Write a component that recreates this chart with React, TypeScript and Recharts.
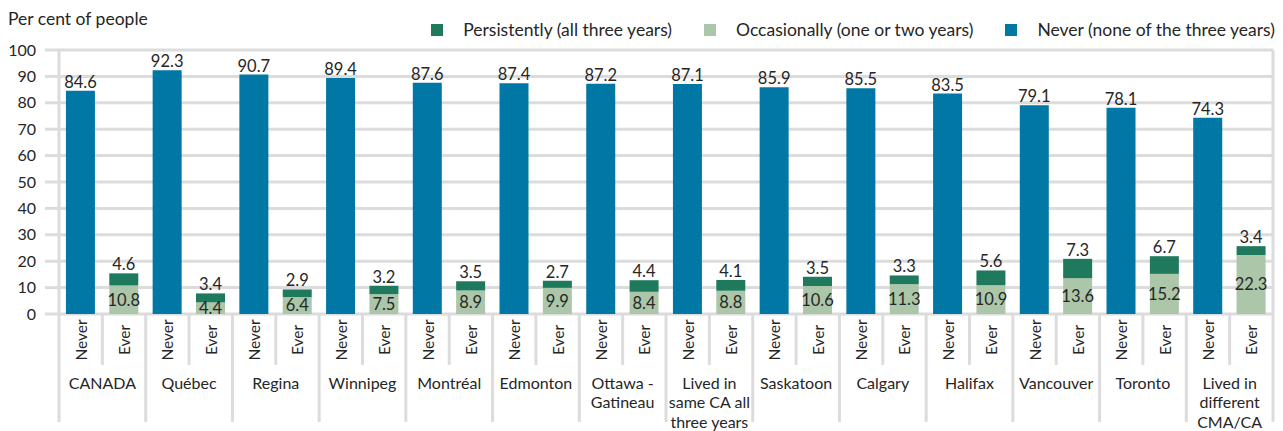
import { BarChart, Bar, XAxis, YAxis, CartesianGrid, LabelList } from 'recharts'

const groups = ['CANADA', 'Québec', 'Regina', 'Winnipeg', 'Montréal', 'Edmonton', 'Ottawa - Gatineau',
  'Lived in same CA all three years', 'Saskatoon', 'Calgary', 'Halifax', 'Vancouver', 'Toronto',
  'Lived in different CMA/CA']
const groupLines = [['CANADA'], ['Québec'], ['Regina'], ['Winnipeg'], ['Montréal'], ['Edmonton'],
  ['Ottawa -', 'Gatineau'], ['Lived in', 'same CA all', 'three years'], ['Saskatoon'], ['Calgary'],
  ['Halifax'], ['Vancouver'], ['Toronto'], ['Lived in', 'different', 'CMA/CA']]
const never = [84.6, 92.3, 90.7, 89.4, 87.6, 87.4, 87.2, 87.1, 85.9, 85.5, 83.5, 79.1, 78.1, 74.3]
const occasionally = [10.8, 4.4, 6.4, 7.5, 8.9, 9.9, 8.4, 8.8, 10.6, 11.3, 10.9, 13.6, 15.2, 22.3]
const persistently = [4.6, 3.4, 2.9, 3.2, 3.5, 2.7, 4.4, 4.1, 3.5, 3.3, 5.6, 7.3, 6.7, 3.4]
const subLabels = ['Never', 'Ever']
const yTicks = [0, 10, 20, 30, 40, 50, 60, 70, 80, 90, 100]

const BLUE = '#0077A4'
const DARK = '#1F7A5D'
const LIGHT = '#ABC6A9'
const GRID = '#DCDCDC'
const TEXT = '#262626'
const FONT = 'Lato, "Open Sans", sans-serif'

const rows = groups.flatMap((g, i) => [
  { key: `${g}|0`, group: i, sub: subLabels[0], never: never[i], occ: null, pers: null },
  { key: `${g}|1`, group: i, sub: subLabels[1], never: null, occ: occasionally[i], pers: persistently[i] },
])

const W = 1283
const H = 431
const LEFT = 59
const RIGHT = 10
const BAND = (W - LEFT - RIGHT) / rows.length

const fmt = (v: any) => (v == null ? '' : Number(v).toFixed(1))

function GroupTick(props: any) {
  const { x, y, payload } = props
  const idx = payload.index
  const row = rows[idx]
  const isEver = row.sub === 'Ever'
  return (
    <g>
      <line x1={x - BAND / 2} x2={x - BAND / 2} y1={y} y2={y + (isEver ? 51 : 108)} stroke={GRID} strokeWidth={3} />
      {idx === rows.length - 1 && (
        <line x1={x + BAND / 2} x2={x + BAND / 2} y1={y} y2={y + 108} stroke={GRID} strokeWidth={3} />
      )}
      <text transform={`translate(${x},${y + 26}) rotate(-90)`} textAnchor="middle" dominantBaseline="central"
        fontSize={15.5} fill={TEXT} fontFamily={FONT}>{row.sub}</text>
      {isEver && groupLines[row.group].map((ln, k) => (
        <text key={k} x={x - BAND / 2} y={y + 68 + k * 19.5} textAnchor="middle" dominantBaseline="central"
          fontSize={16} fill={TEXT} fontFamily={FONT}>{ln}</text>
      ))}
    </g>
  )
}

const legendItems = [
  { label: 'Persistently (all three years)', color: DARK },
  { label: 'Occasionally (one or two years)', color: LIGHT },
  { label: 'Never (none of the three years)', color: BLUE },
]

export default function App() {
  return (
    <div style={{ position: 'absolute', left: 0, top: 0, width: W, height: H, fontFamily: FONT, color: TEXT }}>
      <div style={{ position: 'absolute', left: 8, top: 8, fontSize: 17.5 }}>Per cent of people</div>
      <div style={{ position: 'absolute', right: 8, top: 19, display: 'flex', alignItems: 'center', fontSize: 17.5 }}>
        {legendItems.map((it, i) => (
          <div key={i} style={{ display: 'flex', alignItems: 'center', marginLeft: i ? 32 : 0 }}>
            <span style={{ width: 12, height: 12, background: it.color, marginRight: 20, display: 'inline-block' }} />
            <span>{it.label}</span>
          </div>
        ))}
      </div>
      <BarChart width={W} height={H} data={rows} margin={{ top: 50, right: 0, bottom: 0, left: 0 }}
        barCategoryGap="16%">
        <CartesianGrid vertical={false} stroke={GRID} strokeWidth={3} />
        <XAxis dataKey="key" interval={0} height={117} tickLine={false} axisLine={false}
          tickSize={0} tickMargin={0} tick={<GroupTick />} />
        <YAxis domain={[0, 100]} ticks={yTicks} width={LEFT} interval={0}
          axisLine={{ stroke: GRID, strokeWidth: 3 }} tickLine={{ stroke: GRID, strokeWidth: 3 }}
          tickSize={14} tickMargin={9} tick={{ fontSize: 16, fill: TEXT, fontFamily: FONT }} />
        <YAxis yAxisId="r" orientation="right" domain={[0, 100]} width={RIGHT} tick={false} tickLine={false}
          axisLine={{ stroke: GRID, strokeWidth: 3 }} />
        <Bar dataKey="never" stackId="a" fill={BLUE} isAnimationActive={false}>
          <LabelList dataKey="never" position="top" offset={3} formatter={fmt} fontSize={16.5} fill={TEXT} fontFamily={FONT} />
        </Bar>
        <Bar dataKey="occ" stackId="a" fill={LIGHT} isAnimationActive={false}>
          <LabelList dataKey="occ" position="center" formatter={fmt} fontSize={16.5} fill={TEXT} fontFamily={FONT} />
        </Bar>
        <Bar dataKey="pers" stackId="a" fill={DARK} isAnimationActive={false}>
          <LabelList dataKey="pers" position="top" offset={3} formatter={fmt} fontSize={16.5} fill={TEXT} fontFamily={FONT} />
        </Bar>
      </BarChart>
    </div>
  )
}
